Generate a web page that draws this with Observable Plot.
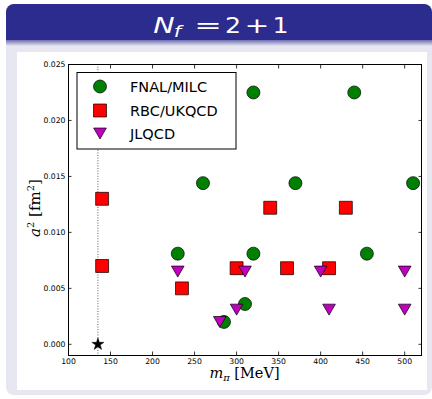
<!DOCTYPE html>
<html><head><meta charset="utf-8">
<script src="https://cdn.jsdelivr.net/npm/d3@7"></script>
<script src="https://cdn.jsdelivr.net/npm/@observablehq/plot@0.6"></script>
<style>
body{margin:0;background:#fff;width:432px;height:399px;overflow:hidden;position:relative;font-family:"DejaVu Sans",sans-serif}
#block{position:absolute;left:6px;top:4px;width:426px;height:391px;border-radius:8px;background:#e7e7f1;overflow:hidden}
#head{position:absolute;left:0;top:0;width:100%;height:36px;background:#2c2c8e}
#shade{position:absolute;left:0;top:36px;width:100%;height:6px;background:linear-gradient(#6e6eb0,#e7e7f1)}
#inner{position:absolute;left:11px;top:48px;width:410px;height:338px;background:#fff}
#head svg{position:absolute;left:0;top:0}
</style>
</head><body>
<div id="block">
  <div id="head">
    <svg width="426" height="36" font-family="DejaVu Sans, sans-serif" fill="#fff" text-anchor="middle">
      <text transform="translate(158,29) scale(1.3,1)" font-size="22" font-style="italic">N</text>
      <text transform="translate(171.5,33) scale(1.3,1)" font-size="16" font-style="italic">f</text>
      <text transform="translate(202,29) scale(1.5,1)" font-size="22">=</text>
      <text transform="translate(227,29) scale(1.15,1)" font-size="22">2</text>
      <text transform="translate(251,29) scale(1.35,1)" font-size="22">+</text>
      <text transform="translate(274.5,29) scale(1.15,1)" font-size="22">1</text>
    </svg>
  </div>
  <div id="shade"></div>
  <div id="inner"></div>
</div>
<script>
// ---- data ----
const fnalX = [230, 260, 320, 440, 370, 510, 320, 455, 310, 285];
const fnalY = [0.0081, 0.0144, 0.0225, 0.0225, 0.0144, 0.0144, 0.0081, 0.0081, 0.0036, 0.0020];
const rbcX = [140, 140, 235, 340, 430, 300, 360, 410];
const rbcY = [0.0130, 0.0070, 0.0050, 0.0122, 0.0122, 0.0068, 0.0068, 0.0068];
const jlqcdX = [230, 310, 400, 500, 300, 410, 500, 280];
const jlqcdY = [0.0065, 0.0065, 0.0065, 0.0065, 0.0031, 0.0031, 0.0031, 0.0020];
const physicalX = [135];
const physicalY = [0];
const xTicks = [100, 150, 200, 250, 300, 350, 400, 450, 500];
const yTicks = [0.000, 0.005, 0.010, 0.015, 0.020, 0.025];
const seriesNames = ["FNAL/MILC", "RBC/UKQCD", "JLQCD"];

const zip = (xs, ys) => xs.map((x, i) => ({x, y: ys[i]}));
const fnal = zip(fnalX, fnalY);
const rbc = zip(rbcX, rbcY);
const jlqcd = zip(jlqcdX, jlqcdY);
const physical = zip(physicalX, physicalY);

const green = "#008000", red = "#ff0000", magenta = "#bf00bf";
const tickOpts = {ticks: xTicks, tickSize: -3.5, tickFormat: () => "", label: null, strokeWidth: 0.8};
const ytickOpts = {ticks: yTicks, tickSize: -3.5, tickFormat: () => "", label: null, strokeWidth: 0.8};

const plot = Plot.plot({
  width: 410, height: 338,
  marginLeft: 51, marginRight: 6, marginTop: 12, marginBottom: 35,
  x: {domain: [100, 520]},
  y: {domain: [-0.001, 0.025]},
  style: {fontFamily: "DejaVu Sans, sans-serif", fontSize: "7.7px", background: "white", color: "black", overflow: "visible"},
  marks: [
    Plot.ruleX(physicalX, {stroke: "#333", strokeWidth: 0.8, strokeDasharray: "1,1.6"}),
    Plot.dot(fnal, {x: "x", y: "y", symbol: "circle", r: 6.5, fill: green, stroke: "black", strokeWidth: 0.7}),
    Plot.dot(rbc, {x: "x", y: "y", symbol: "square", r: 7.3, fill: red, stroke: "black", strokeWidth: 0.7}),
    Plot.dot(jlqcd, {x: "x", y: "y", symbol: "triangle", r: 4.7, rotate: 180, dy: -1.8, fill: magenta, stroke: "black", strokeWidth: 0.7}),
    Plot.dot(physical, {x: "x", y: "y", symbol: "star", r: 3.8, fill: "black", stroke: "black", strokeWidth: 0.5}),
    Plot.frame({stroke: "black", strokeWidth: 1}),
    Plot.axisX({anchor: "bottom", ...tickOpts}),
    Plot.axisX({anchor: "top", ...tickOpts}),
    Plot.axisY({anchor: "left", ...ytickOpts}),
    Plot.axisY({anchor: "right", ...ytickOpts}),
    Plot.axisX({anchor: "bottom", ticks: xTicks, tickSize: 0, tickPadding: 3, tickFormat: d3.format("d"), label: null}),
    Plot.axisY({anchor: "left", ticks: yTicks, tickSize: 0, tickPadding: 3, tickFormat: d3.format(".3f"), label: null})
  ]
});

const svg = d3.select(plot);
// axis labels
const xl = svg.append("text").attr("x", 227.5).attr("y", 326).attr("text-anchor", "middle")
  .attr("font-family", "DejaVu Serif, serif").attr("font-size", 14.5).attr("fill", "black");
xl.append("tspan").attr("font-style", "italic").text("m");
xl.append("tspan").attr("font-style", "italic").attr("font-size", 10).attr("dy", 3).text("π");
xl.append("tspan").attr("dy", -3).text(" [MeV]");

const yl = svg.append("text").attr("transform", "translate(23,156) rotate(-90)").attr("text-anchor", "middle")
  .attr("font-family", "DejaVu Serif, serif").attr("font-size", 15).attr("fill", "black");
yl.append("tspan").attr("font-style", "italic").text("a");
yl.append("tspan").attr("font-size", 10).attr("dy", -6).text("2");
yl.append("tspan").attr("dy", 6).text(" [fm");
yl.append("tspan").attr("font-size", 10).attr("dy", -6).text("2");
yl.append("tspan").attr("dy", 6).text("]");

// legend
const lg = svg.append("g").attr("transform", "translate(60,20.5)").attr("text-anchor", "start");
lg.append("rect").attr("width", 159).attr("height", 76.5).attr("fill", "white").attr("stroke", "black").attr("stroke-width", 1);
const sw = [
  {sym: d3.symbolCircle, r: 6.5, fill: green, rot: 0, dy: 0},
  {sym: d3.symbolSquare, r: 7.3, fill: red, rot: 0, dy: 0},
  {sym: d3.symbolTriangle, r: 4.7, fill: magenta, rot: 180, dy: -1.8}
];
const rowY = [14, 38, 61];
seriesNames.forEach((name, i) => {
  const s = sw[i];
  lg.append("path").attr("d", d3.symbol(s.sym, s.r * s.r * Math.PI)())
    .attr("transform", `translate(23,${rowY[i] + s.dy}) rotate(${s.rot})`)
    .attr("fill", s.fill).attr("stroke", "black").attr("stroke-width", 0.7);
  lg.append("text").attr("x", 53).attr("y", rowY[i] + 5.3).attr("font-size", 14.5)
    .attr("text-anchor", "start")
    .attr("font-family", "DejaVu Sans, sans-serif").attr("fill", "black").text(name);
});

document.getElementById("inner").appendChild(plot);
</script>
</body></html>
